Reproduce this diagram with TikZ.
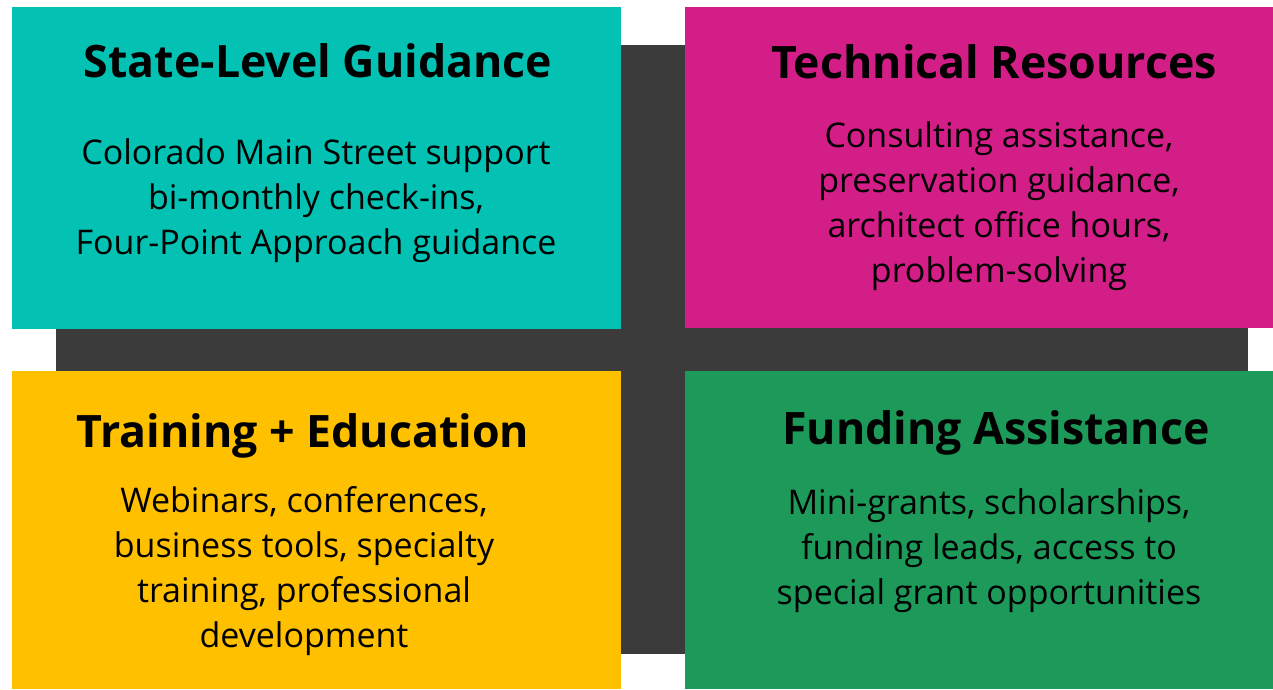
\documentclass[tikz,border=0pt]{standalone}
\usepackage{fontspec}
\setmainfont{Open Sans}
\definecolor{cteal}{HTML}{03C2B3}
\definecolor{cmag}{HTML}{D31E88}
\definecolor{cyel}{HTML}{FFC000}
\definecolor{cgreen}{HTML}{1D9A5A}
\definecolor{cdark}{HTML}{3B3B3B}
\tikzset{
  titletext/.style={anchor=base, inner sep=0pt, font=\fontsize{33.5}{40}\selectfont\bfseries},
  bodytext/.style={anchor=base, inner sep=0pt, align=center, font=\fontsize{25.5}{33.75}\selectfont},
}
\begin{document}
\begin{tikzpicture}[x=0.75pt,y=-0.75pt]
\useasboundingbox (0,0) rectangle (1273,689);
\fill[cdark] (56,45) rectangle (1248,654);
\fill[cteal] (12,7) rectangle (621,329);
\fill[cmag] (685,7) rectangle (1273,328);
\fill[cyel] (12,371) rectangle (621,689);
\fill[cgreen] (685,371) rectangle (1273,689);
\node[titletext] (t1) at (318,77) {State-Level Guidance};
\node[bodytext] (b1) at (316,254) {Colorado Main Street support\\bi-monthly check-ins,\\Four-Point Approach guidance};
\node[titletext] (t2) at (994,78) {Technical Resources};
\node[bodytext] (b2) at (999,282) {Consulting assistance,\\preservation guidance,\\architect office hours,\\problem-solving};
\node[titletext] (t3) at (303,447) {Training + Education};
\node[bodytext] (b3) at (304,647) {Webinars, conferences,\\business tools, specialty\\training, professional\\development};
\node[titletext] (t4) at (996,444) {Funding Assistance};
\node[bodytext] (b4) at (989,604) {Mini-grants, scholarships,\\funding leads, access to\\special grant opportunities};
\end{tikzpicture}
\end{document}
